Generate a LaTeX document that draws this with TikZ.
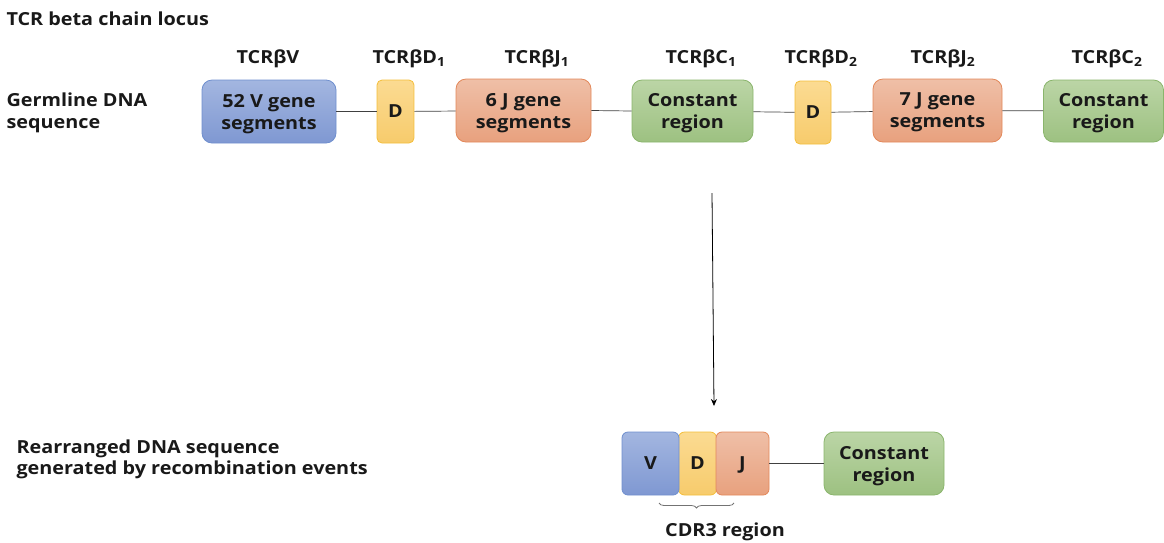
\documentclass[tikz,border=0pt]{standalone}
\usepackage{fontspec}
\setmainfont{Open Sans}[FakeStretch=1.1]
\usetikzlibrary{arrows.meta,decorations.pathreplacing}
\definecolor{vtop}{HTML}{A3B6E0}\definecolor{vbot}{HTML}{7F98D2}\definecolor{vline}{HTML}{6F8FCE}
\definecolor{dtop}{HTML}{FBDB92}\definecolor{dbot}{HTML}{F7CB6C}\definecolor{dline}{HTML}{F4BE3A}
\definecolor{jtop}{HTML}{EFBFA7}\definecolor{jbot}{HTML}{E8A17E}\definecolor{jline}{HTML}{E3885A}
\definecolor{ctop}{HTML}{BBD5A6}\definecolor{cbot}{HTML}{9DC181}\definecolor{cline}{HTML}{8AB56C}
\tikzset{
  seg/.style={draw, line width=0.8pt, rounded corners=10pt, inner sep=0pt, align=center,
    text depth=0pt, font=\bfseries\fontsize{18}{22}\selectfont, text=black!90},
  vseg/.style={seg, top color=vtop, bottom color=vbot, draw=vline},
  dseg/.style={seg, top color=dtop, bottom color=dbot, draw=dline, rounded corners=5pt},
  jseg/.style={seg, top color=jtop, bottom color=jbot, draw=jline},
  cseg/.style={seg, top color=ctop, bottom color=cbot, draw=cline},
  lbl/.style={font=\bfseries\fontsize{18}{21.5}\selectfont, text=black!90},
  sidelbl/.style={lbl, anchor=west, align=left},
  link/.style={draw=black!75, line width=0.7pt}
}
\begin{document}
\begin{tikzpicture}[x=1pt,y=-1pt]
\useasboundingbox (0,0) rectangle (1164,542);

% headings
\node[sidelbl] (title) at (3,19) {TCR beta chain locus};
\node[sidelbl] (germ) at (3,113) {Germline DNA\\sequence};
\node[sidelbl] (rearr) at (13,459.5) {Rearranged DNA sequence\\generated by recombination events};

% germline segments
\node[vseg, minimum width=134pt, minimum height=63pt] (v)  at (269,111.5) {52 V gene\\segments};
\node[dseg, minimum width=37pt,  minimum height=63pt] (d1) at (395.5,111.5) {D};
\node[jseg, minimum width=135pt, minimum height=63pt] (j1) at (523.5,110.5) {6 J gene\\segments};
\node[cseg, minimum width=121pt, minimum height=62pt] (c1) at (692.5,111) {Constant\\region};
\node[dseg, minimum width=36pt,  minimum height=63pt] (d2) at (813,112.5) {D};
\node[jseg, minimum width=129pt, minimum height=63pt] (j2) at (937.5,110.5) {7 J gene\\segments};
\node[cseg, minimum width=120pt, minimum height=62pt] (c2) at (1103.5,111) {Constant\\region};

% segment names
\node[lbl] (nv)  at (268,59) {TCRβV};
\node[lbl] (nd1) at (409,59) {TCRβD\textsubscript{1}};
\node[lbl] (nj1) at (537,59) {TCRβJ\textsubscript{1}};
\node[lbl] (nc1) at (701,59) {TCRβC\textsubscript{1}};
\node[lbl] (nd2) at (821,59) {TCRβD\textsubscript{2}};
\node[lbl] (nj2) at (943,59) {TCRβJ\textsubscript{2}};
\node[lbl] (nc2) at (1107,59) {TCRβC\textsubscript{2}};

% germline backbone
\draw[link] (v) -- (d1);
\draw[link] (d1) -- (j1);
\draw[link] (j1.east) -- (c1.west);
\draw[link] (c1) -- (d2);
\draw[link] (d2) -- (j2);
\draw[link] (j2) -- (c2);

% recombination arrow
\coordinate (arrA) at (712,193);
\coordinate (arrB) at (714,406);
\draw[black, line width=0.8pt, -{Stealth[length=7pt,width=6pt]}] (arrA) -- (arrB);

% rearranged segments
\node[dseg, rounded corners=6pt, minimum width=38pt, minimum height=63pt] (rd) at (697.5,463.5) {D};
\node[vseg, rounded corners=6pt, minimum width=57pt, minimum height=63pt] (rv) at (650.5,463.5) {V};
\node[jseg, rounded corners=6pt, minimum width=53pt, minimum height=63pt] (rj) at (742.5,463.5) {J};
\node[cseg, minimum width=120pt, minimum height=63pt] (rc) at (884,463.5) {Constant\\region};
\draw[link] (rj) -- (rc);

% CDR3 brace
\coordinate (brL) at (659,503);
\coordinate (brR) at (734,503);
\draw[black!55, line width=0.8pt, decorate, decoration={brace, mirror, amplitude=5pt}] (brL) -- (brR);
\node[lbl] (cdr) at (725,532) {CDR3 region};
\end{tikzpicture}
\end{document}
